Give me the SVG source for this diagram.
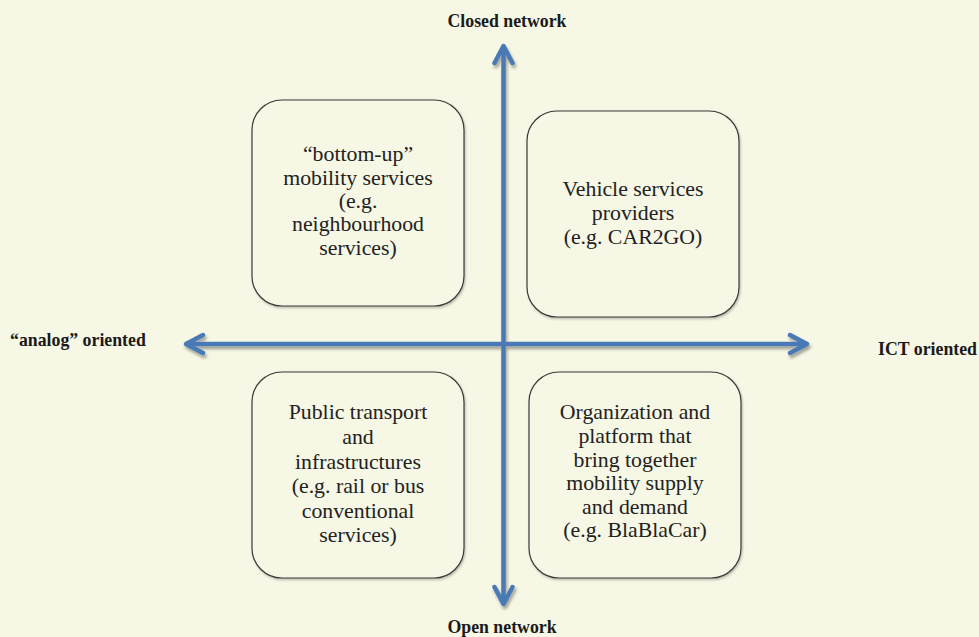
<svg xmlns="http://www.w3.org/2000/svg" width="979" height="637" viewBox="0 0 979 637">
  <style>
    .box { fill: #f6f7e4; stroke: #3a3a3a; stroke-width: 1.2; }
    .txt { font-family: "Liberation Serif", "Times New Roman", serif; font-size: 21.8px; fill: #222; text-anchor: middle; }
    .axis-label { font-family: "Liberation Serif", "Times New Roman", serif; font-size: 17.8px; font-weight: bold; fill: #1a1a1a; }
    .axis { stroke: #4a7ab5; stroke-width: 4.5; fill: none; }
  </style>
  <defs>
    <filter id="shadow" x="-10%" y="-10%" width="130%" height="130%">
      <feDropShadow dx="1.5" dy="3" stdDeviation="1.5" flood-color="#000" flood-opacity="0.35"/>
    </filter>
    <filter id="boxShadow" x="-10%" y="-10%" width="130%" height="130%">
      <feDropShadow dx="1" dy="1.5" stdDeviation="1" flood-color="#000" flood-opacity="0.25"/>
    </filter>
    <marker id="head" markerUnits="userSpaceOnUse" viewBox="-22 -12 26 24" markerWidth="26" markerHeight="24" refX="0" refY="0" orient="auto-start-reverse">
      <path d="M -17 -9 L 0 0 L -17 9" fill="none" stroke="#4a7ab5" stroke-width="4.5" stroke-linecap="round" stroke-linejoin="round"/>
    </marker>
  </defs>

  <rect width="979" height="637" fill="#f6f7e4"/>

  <!-- axes -->
  <g id="connectors" filter="url(#shadow)">
    <line class="axis" x1="503.5" y1="46" x2="503.5" y2="604" marker-start="url(#head)" marker-end="url(#head)"/>
    <line class="axis" x1="186" y1="344" x2="807" y2="344" marker-start="url(#head)" marker-end="url(#head)"/>
  </g>

  <!-- axis labels -->
  <text class="axis-label" x="507" y="27" text-anchor="middle">Closed network</text>
  <text class="axis-label" x="502" y="633" text-anchor="middle">Open network</text>
  <text class="axis-label" x="10" y="346">“analog” oriented</text>
  <text class="axis-label" x="977" y="355" text-anchor="end">ICT oriented</text>

  <!-- quadrant boxes -->
  <g id="bottom-up">
    <rect class="box" x="252" y="100" width="212" height="206" rx="30" filter="url(#boxShadow)"/>
    <text class="txt" x="358" y="161">“bottom-up”</text>
    <text class="txt" x="358" y="184.5">mobility services</text>
    <text class="txt" x="358" y="208">(e.g.</text>
    <text class="txt" x="358" y="231">neighbourhood</text>
    <text class="txt" x="358" y="254.5">services)</text>
  </g>

  <g id="vehicle-services">
    <rect class="box" x="527" y="111" width="212" height="206" rx="30" filter="url(#boxShadow)"/>
    <text class="txt" x="633" y="196">Vehicle services</text>
    <text class="txt" x="633" y="220">providers</text>
    <text class="txt" x="633" y="244">(e.g. CAR2GO)</text>
  </g>

  <g id="public-transport">
    <rect class="box" x="252" y="372" width="212" height="206" rx="30" filter="url(#boxShadow)"/>
    <text class="txt" x="358" y="419">Public transport</text>
    <text class="txt" x="358" y="444">and</text>
    <text class="txt" x="358" y="468.5">infrastructures</text>
    <text class="txt" x="358" y="493">(e.g. rail or bus</text>
    <text class="txt" x="358" y="517.5">conventional</text>
    <text class="txt" x="358" y="542">services)</text>
  </g>

  <g id="platforms">
    <rect class="box" x="529" y="372" width="212" height="206" rx="30" filter="url(#boxShadow)"/>
    <text class="txt" x="635" y="419">Organization and</text>
    <text class="txt" x="635" y="443">platform that</text>
    <text class="txt" x="635" y="466.5">bring together</text>
    <text class="txt" x="635" y="490">mobility supply</text>
    <text class="txt" x="635" y="513.5">and demand</text>
    <text class="txt" x="635" y="537">(e.g. BlaBlaCar)</text>
  </g>
</svg>
